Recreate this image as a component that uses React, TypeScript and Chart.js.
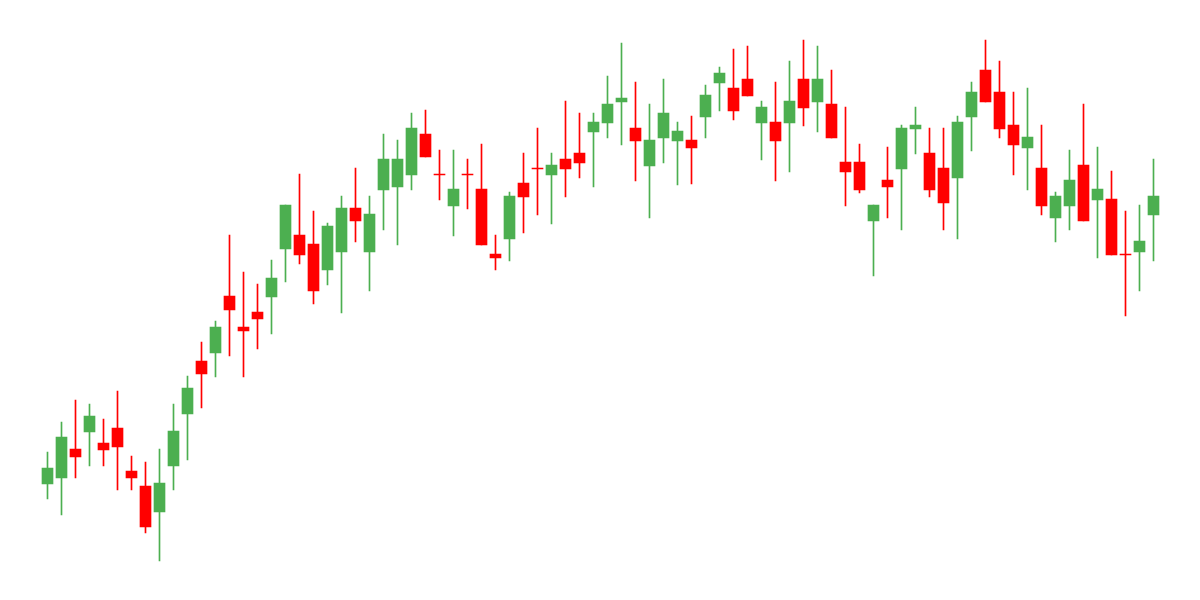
import React, { useEffect, useRef } from "react";
import { Chart, registerables } from "chart.js";

Chart.register(...registerables);

const opens = [116, 122, 151, 168, 157, 172, 129, 114, 88, 134, 186, 239, 247, 304, 273, 288, 303, 351, 365, 356, 330, 348, 392, 348, 410, 413, 425, 466, 426, 394, 426, 411, 346, 361, 417, 432, 425, 441, 447, 468, 477, 498, 472, 434, 462, 459, 460, 483, 517, 512, 521, 477, 478, 477, 521, 498, 496, 438, 438, 379, 420, 431, 471, 447, 432, 422, 483, 530, 508, 475, 452, 432, 382, 394, 435, 400, 401, 346, 348, 385];
const highs = [148, 178, 200, 196, 181, 209, 144, 138, 151, 196, 224, 258, 279, 365, 328, 316, 340, 395, 426, 389, 377, 404, 432, 404, 466, 460, 487, 490, 450, 450, 441, 456, 365, 408, 447, 472, 447, 499, 487, 487, 524, 557, 518, 496, 521, 478, 484, 515, 533, 551, 554, 499, 518, 539, 560, 554, 530, 493, 456, 395, 453, 475, 493, 472, 472, 484, 518, 560, 539, 508, 512, 475, 408, 450, 496, 453, 429, 389, 395, 441];
const lows = [101, 85, 122, 134, 134, 110, 110, 67, 39, 110, 140, 192, 223, 244, 223, 251, 266, 318, 336, 296, 315, 287, 358, 309, 370, 355, 410, 443, 400, 364, 391, 355, 330, 339, 367, 385, 376, 403, 422, 413, 462, 455, 419, 382, 437, 415, 416, 462, 489, 480, 504, 440, 419, 428, 474, 468, 462, 394, 407, 324, 382, 370, 446, 403, 370, 361, 449, 498, 462, 425, 410, 385, 358, 370, 379, 342, 345, 284, 309, 339];
const closes = [132, 163, 143, 184, 150, 153, 122, 73, 117, 169, 212, 226, 273, 290, 269, 281, 322, 395, 345, 309, 374, 392, 379, 386, 441, 441, 472, 443, 425, 411, 425, 355, 342, 404, 403, 431, 435, 431, 437, 478, 496, 502, 459, 460, 487, 469, 452, 505, 527, 489, 504, 493, 459, 499, 492, 521, 462, 428, 410, 395, 413, 472, 475, 410, 397, 478, 508, 498, 471, 455, 463, 394, 404, 420, 379, 411, 345, 345, 359, 404];
const labels = opens.map((_, i) => String(i + 1));

const UP = "#4CAF50";
const DOWN = "#FF0000";

export default function App() {
  const ref = useRef<HTMLCanvasElement | null>(null);
  useEffect(() => {
    if (!ref.current) return;
    const colors = opens.map((o, i) => (closes[i] >= o ? UP : DOWN));
    const chart = new Chart(ref.current, {
      type: "bar",
      data: {
        labels,
        datasets: [
          {
            label: "body",
            data: opens.map((o, i) => [o, closes[i]]) as any,
            backgroundColor: colors,
            borderWidth: 0,
            barThickness: 11,
            grouped: false,
            order: 0,
          } as any,
          {
            label: "wick",
            data: lows.map((l, i) => [l, highs[i]]) as any,
            backgroundColor: colors,
            borderWidth: 0,
            barThickness: 1,
            grouped: false,
            order: 1,
          } as any,
        ],
      },
      options: {
        responsive: false,
        animation: false,
        layout: { padding: { left: 40.5, right: 39.5, top: 0, bottom: 0 } },
        plugins: { legend: { display: false }, tooltip: { enabled: false } },
        scales: {
          x: { display: false, offset: true },
          y: { display: false, min: 0, max: 600 },
        },
      },
    });
    return () => chart.destroy();
  }, []);
  return (
    <div style={{ position: "absolute", left: 0, top: 0, width: 1200, height: 600, background: "#fff" }}>
      <canvas ref={ref} width={1200} height={600} />
    </div>
  );
}
